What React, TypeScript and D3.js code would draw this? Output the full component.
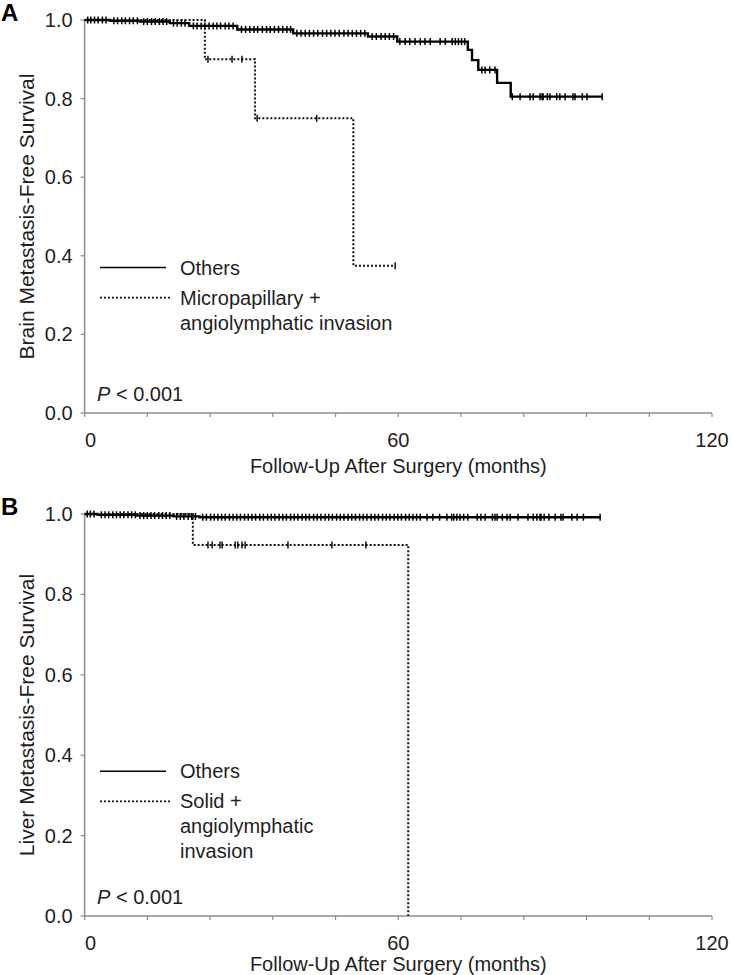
import * as d3 from "d3";

const W = 733;
const H = 975;

const xMajorTicks = [0, 60, 120];
const xMinorTicks = [12, 24, 36, 48, 72, 84, 96, 108];
const yTicks = [0, 0.2, 0.4, 0.6, 0.8, 1.0];

// A: brain metastasis, "Others" group (step times / survival after step; last = end of follow-up)
const brainOthersTimes = [0, 4.9, 10.6, 16.3, 20, 29.2, 39.9, 54.2, 59.8, 73.3, 74.1, 75.3, 78.9, 81.5, 99];
const brainOthersSurv = [1, 0.998, 0.996, 0.992, 0.985, 0.976, 0.966, 0.958, 0.945, 0.924, 0.898, 0.873, 0.84, 0.805, 0.805];
const brainOthersCensor = [
  0.6, 1.2, 1.9, 2.6, 3.4, 4.1, 5.6, 6.3, 7.1, 7.8, 8.6, 9.3, 10.1, 11.3, 12, 12.8, 13.5, 14.3, 15, 15.7,
  17, 17.7, 18.5, 19.2, 20.8, 21.5, 22.3, 23, 23.8, 24.6, 25.3, 26, 26.9, 27.6, 28.4, 30, 30.8, 31.6, 32.4,
  33.1, 34, 34.8, 35.5, 36.3, 37.1, 37.9, 38.7, 39.4, 40.6, 41.4, 42.2, 43, 43.8, 44.6, 45.5, 46.3, 47.1,
  47.9, 48.7, 49.6, 50.4, 51.2, 52, 52.8, 53.6, 55, 55.8, 56.7, 57.5, 58.3, 59.1, 60.3, 61.3, 62.2, 63.2,
  64.2, 65.1, 66.1, 68, 69, 70.3, 70.9, 71.5, 72.1, 72.7, 76, 76.6, 77.5, 78.5, 81.8, 83.3, 85.2, 85.8,
  87.1, 87.5, 87.7, 88.5, 89, 90.3, 90.9, 91.9, 93.4, 93.8, 95.2, 96.1, 99,
];
// A: micropapillary + angiolymphatic invasion
const brainGroupTimes = [0, 23, 32.6, 51.4, 59.4];
const brainGroupSurv = [1, 0.9, 0.75, 0.375, 0.375];
const brainGroupCensor = [23.6, 28.2, 30.1, 33, 44.4, 59.4];

// B: liver metastasis, "Others"
const liverOthersTimes = [0, 2.5, 10, 17, 22, 98.6];
const liverOthersSurv = [1, 0.998, 0.996, 0.994, 0.992, 0.992];
const liverOthersCensor = [
  0.5, 1.1, 1.8, 3.2, 3.9, 4.6, 5.4, 6.1, 6.8, 7.5, 8.3, 9, 9.7, 10.6, 11.3, 12, 12.7, 13.4, 14.2, 14.9,
  15.6, 16.3, 17.6, 18.3, 19, 19.8, 20.5, 21.2, 22.6, 23.3, 24.1, 24.8, 25.5, 26.2, 26.9, 27.7, 28.4,
  29.1, 29.8, 30.6, 31.3, 32, 32.7, 33.5, 34.2, 35, 35.7, 36.4, 37.2, 37.9, 38.6, 39.4, 40.1, 40.8, 41.6,
  42.3, 43, 43.8, 44.5, 45.2, 46, 46.7, 47.4, 48.2, 48.9, 49.6, 50.4, 51.1, 51.8, 52.6, 53.3, 54, 54.8,
  55.5, 56.2, 57, 57.7, 58.4, 59.2, 59.9, 60.6, 61.4, 62.1, 62.8, 63.5, 64.2, 65.5, 66.6, 67.9, 69.3,
  70.2, 70.6, 71.2, 71.8, 72.5, 73.3, 75.1, 75.8, 76.6, 78, 78.5, 78.9, 79.9, 80.8, 81.4, 82.9, 84.8, 85.8,
  86.5, 87.1, 87.3, 87.9, 88.8, 90, 91.1, 91.5, 93.2, 94.2, 95.4, 98.6,
];
// B: solid + angiolymphatic invasion
const liverGroupTimes = [0, 20.7, 61.9, 61.9];
const liverGroupSurv = [1, 0.923, 0, 0];
const liverGroupCensor = [23.6, 24.4, 25.9, 26.3, 28.8, 29.3, 30.1, 30.7, 38.9, 47.3, 53.8];

const x = d3.scaleLinear().domain([0, 120]).range([84.6, 712]);

const FONT = "'Liberation Sans', Arial, sans-serif";
const AXIS = "#8c8c8c";
const TXT = "#1e1e1e";

function survAt(times: number[], surv: number[], t: number) {
  const i = d3.bisectRight(times, t) - 1;
  return surv[Math.max(0, i)];
}

interface PanelProps {
  letter: string;
  top: number;
  bottom: number;
  titleGap: number;
  legendAt: number;
  yLabel: string;
  othersTimes: number[];
  othersSurv: number[];
  othersCensor: number[];
  groupTimes: number[];
  groupSurv: number[];
  groupCensor: number[];
  groupLabel: string[];
}

function Panel(p: PanelProps) {
  const y = d3.scaleLinear().domain([0, 1]).range([p.bottom, p.top]);
  const line = d3
    .line<[number, number]>()
    .x((d) => x(d[0]))
    .y((d) => y(d[1]))
    .curve(d3.curveStepAfter);
  const others = line(p.othersTimes.map((t, i) => [t, p.othersSurv[i]]));
  const group = line(p.groupTimes.map((t, i) => [t, p.groupSurv[i]]));
  const legY = y(p.legendAt);

  return (
    <g fontFamily={FONT}>
      <text x={1} y={p.top + 1} fontSize={24} fontWeight="bold" fill="#000">
        {p.letter}
      </text>
      {/* axes */}
      <line x1={x(0)} x2={x(0)} y1={y(1)} y2={y(0)} stroke={AXIS} strokeWidth={1.5} />
      <line x1={x(0)} x2={x(120)} y1={y(0)} y2={y(0)} stroke={AXIS} strokeWidth={1.5} />
      {yTicks.map((v) => (
        <g key={v}>
          <line x1={x(0) - 4} x2={x(0)} y1={y(v)} y2={y(v)} stroke={AXIS} strokeWidth={1.2} />
          <text x={x(0) - 12} y={y(v)} dy="0.35em" textAnchor="end" fontSize={20} fill={TXT}>
            {v.toFixed(1)}
          </text>
        </g>
      ))}
      {[...xMajorTicks, ...xMinorTicks].map((v) => (
        <line key={v} x1={x(v)} x2={x(v)} y1={y(0)} y2={y(0) + 4} stroke={AXIS} strokeWidth={1.2} />
      ))}
      {xMajorTicks.map((v) => (
        <text key={v} x={x(v) + (v === 0 ? 6 : 0)} y={y(0) + 34} textAnchor="middle" fontSize={20} fill={TXT}>
          {v}
        </text>
      ))}
      <text x={x(60)} y={y(0) + p.titleGap} textAnchor="middle" fontSize={20} fill={TXT}>
        Follow-Up After Surgery (months)
      </text>
      <text
        transform={`translate(34,${(y(1) + y(0)) / 2}) rotate(-90)`}
        textAnchor="middle"
        fontSize={21}
        fill={TXT}
      >
        {p.yLabel}
      </text>

      {/* curves */}
      <path d={others ?? ""} fill="none" stroke="#000" strokeWidth={2.4} />
      <path d={group ?? ""} fill="none" stroke="#111" strokeWidth={2} strokeDasharray="2 2" />
      {p.othersCensor.map((t, i) => {
        const yy = y(survAt(p.othersTimes, p.othersSurv, t));
        return <line key={"o" + i} x1={x(t)} x2={x(t)} y1={yy - 3.5} y2={yy + 3.5} stroke="#000" strokeWidth={1.5} />;
      })}
      {p.groupCensor.map((t, i) => {
        const yy = y(survAt(p.groupTimes, p.groupSurv, t));
        return <line key={"g" + i} x1={x(t)} x2={x(t)} y1={yy - 3.5} y2={yy + 3.5} stroke="#000" strokeWidth={1.4} />;
      })}

      {/* legend */}
      <line x1={100} x2={166} y1={legY} y2={legY} stroke="#000" strokeWidth={1.5} />
      <text x={180} y={legY} dy="0.35em" fontSize={20} fill={TXT}>Others</text>
      <line x1={100} x2={172} y1={legY + 30} y2={legY + 30} stroke="#111" strokeWidth={1.8} strokeDasharray="2 2" />
      {p.groupLabel.map((s, i) => (
        <text key={s} x={180} y={legY + 30 + i * 25} dy="0.35em" fontSize={20} fill={TXT}>
          {s}
        </text>
      ))}
      <text x={97} y={y(0) - 12} fontSize={20} fill={TXT}>
        <tspan fontStyle="italic">P</tspan> &lt; 0.001
      </text>
    </g>
  );
}

export default function App() {
  return (
    <svg width={W} height={H} style={{ position: "absolute", left: 0, top: 0, background: "#fff" }}>
      <rect width={W} height={H} fill="#fff" />
      <Panel
        letter="A"
        top={20}
        bottom={413}
        titleGap={60}
        legendAt={0.37}
        yLabel="Brain Metastasis-Free Survival"
        othersTimes={brainOthersTimes}
        othersSurv={brainOthersSurv}
        othersCensor={brainOthersCensor}
        groupTimes={brainGroupTimes}
        groupSurv={brainGroupSurv}
        groupCensor={brainGroupCensor}
        groupLabel={["Micropapillary +", "angiolymphatic invasion"]}
      />
      <Panel
        letter="B"
        top={514}
        bottom={916}
        titleGap={55}
        legendAt={0.36}
        yLabel="Liver Metastasis-Free Survival"
        othersTimes={liverOthersTimes}
        othersSurv={liverOthersSurv}
        othersCensor={liverOthersCensor}
        groupTimes={liverGroupTimes}
        groupSurv={liverGroupSurv}
        groupCensor={liverGroupCensor}
        groupLabel={["Solid +", "angiolymphatic", "invasion"]}
      />
    </svg>
  );
}
